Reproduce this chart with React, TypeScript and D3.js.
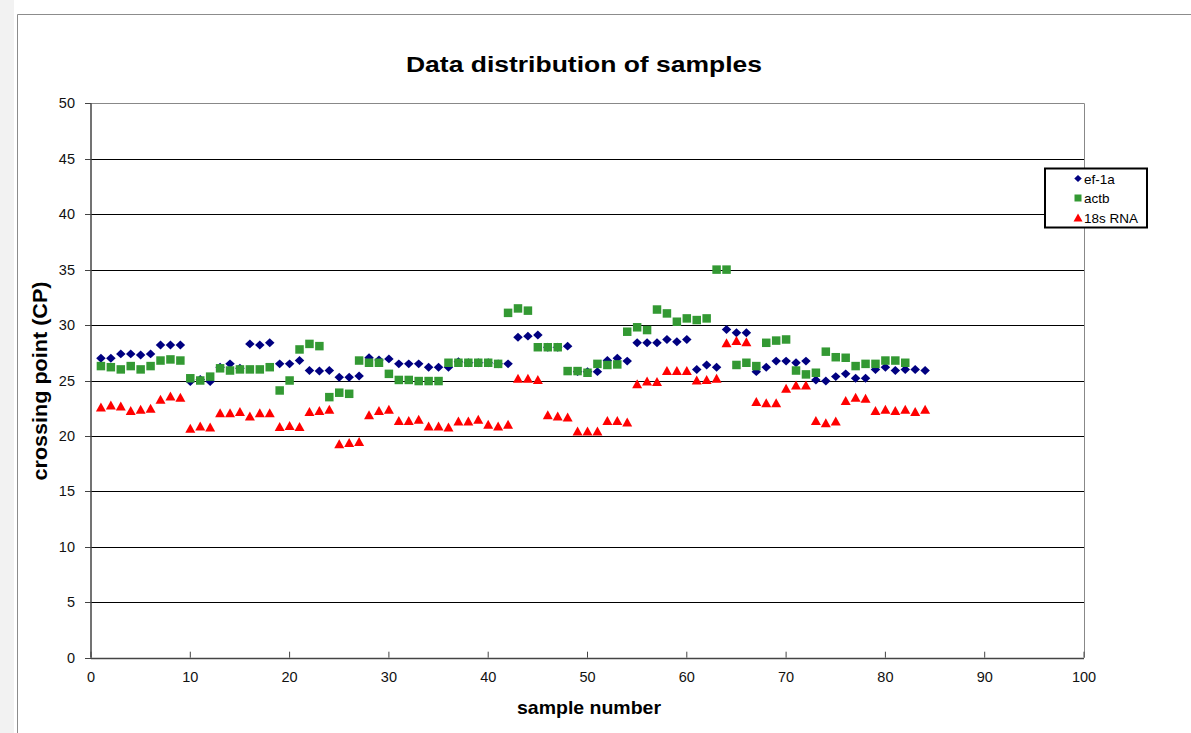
import React from "react";
import * as d3 from "d3";

const title = "Data distribution of samples";
const xTicks = [0, 10, 20, 30, 40, 50, 60, 70, 80, 90, 100];
const yTicks = [0, 5, 10, 15, 20, 25, 30, 35, 40, 45, 50];
const seriesNames = ["ef-1a", "actb", "18s RNA"];

const ef1a = [
  27.0, 27.0, 27.4, 27.4, 27.3, 27.4, 28.2, 28.2, 28.2, 24.9,
  25.1, 24.9, 26.2, 26.5, 26.1, 28.3, 28.2, 28.4, 26.5, 26.5,
  26.8, 25.9, 25.85, 25.9, 25.3, 25.3, 25.4, 27.05, 26.85, 26.95,
  26.5, 26.5, 26.5, 26.2, 26.2, 26.2, 26.7, 26.6, 26.6, 26.6,
  26.5, 26.5, 28.9, 29.0, 29.1, 28.0, 28.0, 28.1, 25.8, 25.8,
  25.8, 26.8, 27.0, 26.75, 28.4, 28.4, 28.4, 28.7, 28.5, 28.7,
  26.0, 26.4, 26.2, 29.6, 29.3, 29.3, 25.8, 26.2, 26.75, 26.75,
  26.6, 26.75, 25.05, 24.95, 25.35, 25.6, 25.2, 25.2, 26.0, 26.2,
  25.9, 26.0, 26.0, 25.9,
];

const actb = [
  26.3, 26.2, 26.0, 26.3, 26.0, 26.3, 26.8, 26.9, 26.8, 25.2,
  25.0, 25.35, 26.1, 25.9, 26.0, 26.0, 26.0, 26.2, 24.1, 25.0,
  27.8, 28.3, 28.1, 23.5, 23.9, 23.8, 26.8, 26.6, 26.6, 25.6,
  25.05, 25.05, 24.95, 24.95, 24.95, 26.6, 26.6, 26.6, 26.6, 26.6,
  26.5, 31.1, 31.5, 31.3, 28.0, 28.0, 28.0, 25.85, 25.85, 25.7,
  26.5, 26.4, 26.45, 29.4, 29.8, 29.55, 31.4, 31.05, 30.3, 30.6,
  30.45, 30.6, 35.0, 35.0, 26.4, 26.6, 26.3, 28.4, 28.6, 28.7,
  25.9, 25.55, 25.7, 27.6, 27.1, 27.05, 26.3, 26.5, 26.5, 26.8,
  26.8, 26.6,
];

const rna18s = [
  22.6, 22.8, 22.7, 22.3, 22.4, 22.5, 23.3, 23.6, 23.5, 20.7,
  20.9, 20.8, 22.1, 22.1, 22.2, 21.8, 22.1, 22.1, 20.85, 20.95,
  20.85, 22.2, 22.3, 22.4, 19.3, 19.4, 19.5, 21.9, 22.3, 22.4,
  21.4, 21.4, 21.5, 20.9, 20.9, 20.8, 21.35, 21.35, 21.5, 21.05,
  20.9, 21.05, 25.2, 25.2, 25.1, 21.9, 21.8, 21.7, 20.45, 20.45,
  20.45, 21.4, 21.4, 21.25, 24.7, 24.95, 24.9, 25.9, 25.9, 25.9,
  25.05, 25.1, 25.2, 28.4, 28.6, 28.5, 23.1, 23.0, 23.0, 24.3,
  24.6, 24.6, 21.4, 21.2, 21.35, 23.2, 23.5, 23.4, 22.3, 22.4,
  22.3, 22.4, 22.2, 22.4,
];

const colors = ["#000080", "#339933", "#ff0000"];

// custom marker shapes (bbox-centred), size = marker width in px
const diamondType = {
  draw(ctx: any, size: number) {
    const w = size / 2;
    const h = size * 0.47;
    ctx.moveTo(0, -h);
    ctx.lineTo(w, 0);
    ctx.lineTo(0, h);
    ctx.lineTo(-w, 0);
    ctx.closePath();
  },
};
const squareType = {
  draw(ctx: any, size: number) {
    const s = size / 2;
    ctx.rect(-s, -s, size, size);
  },
};
const triangleType = {
  draw(ctx: any, size: number) {
    const w = size / 2;
    const h = size * 0.45;
    ctx.moveTo(0, -h);
    ctx.lineTo(w, h);
    ctx.lineTo(-w, h);
    ctx.closePath();
  },
};
const symbolTypes = [diamondType, squareType, triangleType];
const markerSizes = [9.5, 8.5, 10];
const legendSizes = [7.5, 7, 9];

const FONT = "Arial, 'Liberation Sans', sans-serif";

export default function App() {
  const W = 1191;
  const H = 733;
  const x = d3.scaleLinear().domain([0, 100]).range([91, 1084]);
  const y = d3.scaleLinear().domain([0, 50]).range([657.7, 103.3]);
  const data = [ef1a, actb, rna18s];

  const symPaths = symbolTypes.map((t, i) => d3.symbol().type(t as any).size(markerSizes[i])()!);
  const legPaths = symbolTypes.map((t, i) => d3.symbol().type(t as any).size(legendSizes[i])()!);

  return (
    <svg
      width={W}
      height={H}
      style={{ position: "absolute", left: 0, top: 0, background: "#fff" }}
      fontFamily={FONT}
    >
      <rect x={0} y={0} width={14} height={H} fill="#f2f2f2" />
      <line x1={17.5} y1={14.5} x2={W} y2={14.5} stroke="#8c8c8c" />
      <line x1={17.5} y1={14.5} x2={17.5} y2={H} stroke="#8c8c8c" />

      <text
        x={584}
        y={72}
        textAnchor="middle"
        fontSize={22}
        fontWeight="bold"
        fill="#000"
        textLength={356}
        lengthAdjust="spacingAndGlyphs"
      >
        {title}
      </text>

      {/* gridlines */}
      {yTicks.map((t) => (
        <line
          key={"g" + t}
          x1={x(0)}
          x2={x(100)}
          y1={Math.round(y(t)) + 0.5}
          y2={Math.round(y(t)) + 0.5}
          stroke={t === 50 ? "#888" : "#000"}
          strokeWidth={1}
        />
      ))}
      <line x1={x(100) + 0.5} x2={x(100) + 0.5} y1={y(50)} y2={y(0)} stroke="#888" />

      {/* axes */}
      <line x1={x(0)} x2={x(0)} y1={y(50)} y2={y(0)} stroke="#444" strokeWidth={1.5} />
      <line
        x1={x(0)}
        x2={x(100)}
        y1={Math.round(y(0)) + 0.5}
        y2={Math.round(y(0)) + 0.5}
        stroke="#444"
        strokeWidth={1.5}
      />

      {yTicks.map((t) => (
        <g key={"yt" + t}>
          <line x1={x(0) - 6} x2={x(0)} y1={Math.round(y(t)) + 0.5} y2={Math.round(y(t)) + 0.5} stroke="#444" />
          <text x={75} y={y(t) + 5} textAnchor="end" fontSize={14.5} fill="#111">
            {t}
          </text>
        </g>
      ))}
      {xTicks.map((t) => (
        <g key={"xt" + t}>
          <line x1={x(t)} x2={x(t)} y1={y(0)} y2={y(0) - 6} stroke="#444" />
          <text x={x(t)} y={681.5} textAnchor="middle" fontSize={14.5} fill="#111">
            {t}
          </text>
        </g>
      ))}

      <text
        x={589}
        y={713.5}
        textAnchor="middle"
        fontSize={18.5}
        fontWeight="bold"
        fill="#000"
        textLength={144}
        lengthAdjust="spacingAndGlyphs"
      >
        sample number
      </text>
      <text
        transform={`translate(46.5,381) rotate(-90)`}
        textAnchor="middle"
        fontSize={19.5}
        fontWeight="bold"
        fill="#000"
        textLength={199}
        lengthAdjust="spacingAndGlyphs"
      >
        crossing point (CP)
      </text>

      {/* data */}
      {data.map((arr, si) => (
        <g key={"s" + si} fill={colors[si]}>
          {arr.map((v, i) => (
            <path key={i} d={symPaths[si]} transform={`translate(${x(i + 1)},${y(v)})`} />
          ))}
        </g>
      ))}

      {/* legend */}
      <rect x={1045} y={168.5} width={102} height={59} fill="#fff" stroke="#000" strokeWidth={2} />
      {seriesNames.map((n, i) => (
        <g key={"l" + i}>
          <path d={legPaths[i]} fill={colors[i]} transform={`translate(1078,${178.5 + i * 19.5})`} />
          <text x={1084} y={183.5 + i * 19.5} fontSize={13.5} fill="#000">
            {n}
          </text>
        </g>
      ))}
    </svg>
  );
}
